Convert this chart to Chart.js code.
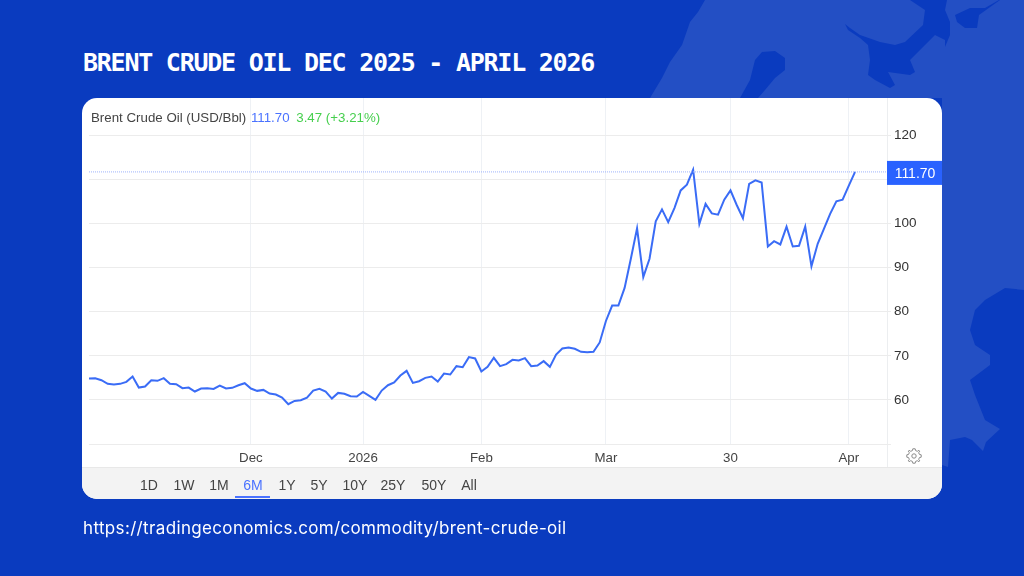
<!DOCTYPE html>
<html>
<head>
<meta charset="utf-8">
<script src="https://cdn.jsdelivr.net/npm/chart.js@4"></script>
<style>
html, body { margin: 0; padding: 0; }
body { width: 1024px; height: 576px; overflow: hidden; background: #0a3bbf; position: relative; font-family: "Liberation Sans", sans-serif; }
#map { position: absolute; left: 0; top: 0; }
#card { position: absolute; left: 82px; top: 98px; width: 860px; height: 401px; background: #fff; border-radius: 15px; overflow: hidden; }
#strip { position: absolute; left: 0; top: 369px; width: 860px; height: 32px; background: #f3f3f3; border-top: 1px solid #e8e8e8; box-sizing: border-box; }
#axisLine { position: absolute; left: 805px; top: 0; width: 1px; height: 369px; background: #eceef0; }
#chartBox { position: absolute; left: 0; top: 0; width: 1024px; height: 576px; }
.txt { position: absolute; white-space: nowrap; }
#title { left: 83px; top: 48px; color: #fff; font: 700 25px "DejaVu Sans Mono", monospace; letter-spacing: -1.24px; }
#url { left: 83px; top: 518px; color: #fff; font: 400 17px "Inter", sans-serif; letter-spacing: 0.35px; }
#legend { left: 91px; top: 110px; font-size: 13.3px; color: #444; }
#legend .last { color: #4a72ff; margin-left: 1px; }
#legend .chg { color: #46cf4e; margin-left: 3px; }
.tab { position: absolute; top: 477px; font-size: 14px; color: #444; transform: translateX(-50%); }
.tab.on { color: #4a72ff; }
#tabLine { position: absolute; left: 235px; top: 496px; width: 35px; height: 2px; background: #4a72ff; }
#gear { position: absolute; left: 906px; top: 448px; }
</style>
</head>
<body>
<svg id="map" width="1024" height="576">
  <path fill="#234fc4" d="M705 0 L698 12 L690 22 L682 45 L670 62 L662 78 L650 98 L942 98 L942 465 L948 467 L950 440 L965 437 L972 440 L983 451 L986 442 L1000 429 L985 420 L975 395 L970 380 L990 365 L990 355 L975 345 L970 330 L975 310 L985 300 L1005 288 L1024 290 L1024 0 Z"/>
  <path fill="#0a3bbf" d="M910 0 L925 10 L923 25 L905 42 L895 45 L880 42 L860 35 L850 28 L845 24 L848 30 L860 38 L868 45 L870 60 L868 75 L875 80 L890 88 L895 85 L888 72 L910 75 L915 72 L910 60 L925 45 L935 35 L945 40 L945 47 L950 35 L950 22 L945 10 L947 0 Z"/>
  <path fill="#0a3bbf" d="M999 0 L985 8 L970 8 L955 15 L957 22 L965 28 L977 28 L979 15 L1000 0 Z"/>
  <path fill="#0a3bbf" d="M740 98 L750 80 L755 60 L762 52 L775 51 L785 58 L785 70 L775 78 L765 90 L758 98 Z"/>
</svg>
<div class="txt" id="title">BRENT CRUDE OIL DEC 2025 - APRIL 2026</div>
<div id="card">
  <div id="strip"></div>
  <div id="axisLine"></div>
</div>
<div id="chartBox"><canvas id="chart" width="1024" height="576"></canvas></div>
<div class="txt" id="legend">Brent Crude Oil (USD/Bbl) <span class="last">111.70</span> <span class="chg">3.47 (+3.21%)</span></div>
<div id="tabs"></div>
<div id="tabLine"></div>
<svg id="gear" width="16" height="16" viewBox="0 0 16 16" fill="none" stroke="#8a8a8a" stroke-width="1">
  <circle cx="8" cy="8" r="2.2"/>
  <path d="M6.8 0.8 H9.2 L9.6 2.6 L11.3 3.3 L12.9 2.3 L13.7 3.1 L12.7 4.7 L13.4 6.4 L15.2 6.8 V9.2 L13.4 9.6 L12.7 11.3 L13.7 12.9 L12.9 13.7 L11.3 12.7 L9.6 13.4 L9.2 15.2 H6.8 L6.4 13.4 L4.7 12.7 L3.1 13.7 L2.3 12.9 L3.3 11.3 L2.6 9.6 L0.8 9.2 V6.8 L2.6 6.4 L3.3 4.7 L2.3 3.1 L3.1 2.3 L4.7 3.3 L6.4 2.6 Z"/>
</svg>
<div class="txt" id="url">https://tradingeconomics.com/commodity/brent-crude-oil</div>

<script>
// daily closes, one per trading day
var brentValues = [
  64.85, 64.92, 64.47, 63.64, 63.48, 63.64, 64.09, 65.30, 62.80, 63.03,
  64.47, 64.32, 64.92, 63.64, 63.56, 62.65, 62.80, 61.90, 62.58, 62.65,
  62.50, 63.26, 62.58, 62.73, 63.33, 63.79, 62.58, 62.05, 62.27, 61.44,
  61.21, 60.53, 59.02, 59.77, 59.92, 60.53, 62.12, 62.50, 61.90, 60.30,
  61.59, 61.40, 60.83, 60.76, 61.82, 60.91, 60.00, 62.12, 63.33, 63.94,
  65.53, 66.59, 63.86, 64.24, 65.00, 65.30, 64.17, 65.98, 65.76, 67.65,
  67.42, 69.70, 69.39, 66.44, 67.50, 69.55, 67.65, 68.10, 69.09, 68.94,
  69.47, 67.65, 67.80, 68.79, 67.50, 70.30, 71.67, 71.89, 71.59, 70.91,
  70.83, 70.91, 73.03, 77.90, 81.40, 81.40, 85.40, 92.00, 98.90, 87.85,
  92.00, 100.50, 103.20, 100.30, 103.50, 107.50, 108.80, 112.20, 99.90, 104.45,
  102.30, 102.00, 105.40, 107.50, 104.20, 101.20, 109.00, 109.80, 109.30, 94.80,
  96.00, 95.25, 99.30, 94.80, 94.95, 99.30, 90.30, 95.40, 98.80, 102.20,
  105.05, 105.40, 108.60, 111.70
];
var xTickIndex = [26, 44, 63, 83, 103, 122];
var xTickLabels = ["Dec", "2026", "Feb", "Mar", "30", "Apr"];
var yTicks = [50, 60, 70, 80, 90, 100, 110, 120];
var yTickLabels = ["", "60", "70", "80", "90", "100", "", "120"];
var lastPrice = 111.70;
var rangeTabs = ["1D", "1W", "1M", "6M", "1Y", "5Y", "10Y", "25Y", "50Y", "All"];
var rangeTabX = [149, 184, 219, 253, 287, 319, 355, 393, 434, 469];

rangeTabs.forEach(function (t, i) {
  var d = document.createElement("div");
  d.className = "tab" + (t == "6M" ? " on" : "");
  d.style.left = rangeTabX[i] + "px";
  d.textContent = t;
  document.getElementById("tabs").appendChild(d);
});

var xMax = 128.13;

// the blue price box on the right axis
var priceBox = {
  id: "priceBox",
  afterDraw: function (chart) {
    var c = chart.ctx, y = chart.scales.y.getPixelForValue(lastPrice);
    c.save();
    c.fillStyle = "#2962ff";
    c.fillRect(887, y - 11, 55, 24);
    c.fillStyle = "#fff";
    c.font = '14px "Liberation Sans"';
    c.textAlign = "center";
    c.textBaseline = "middle";
    c.fillText(lastPrice.toFixed(2), 915, y + 2);
    c.restore();
  }
};

new Chart(document.getElementById("chart"), {
  type: "line",
  data: {
    datasets: [
      {
        data: [{ x: 0, y: lastPrice }, { x: xMax, y: lastPrice }],
        borderColor: "#9db4fb", borderWidth: 1, borderDash: [1, 1], pointRadius: 0, tension: 0
      },
      {
        data: brentValues.map(function (v, i) { return { x: i, y: v }; }),
        borderColor: "#3a6cf6", borderWidth: 2, pointRadius: 0, tension: 0
      }
    ]
  },
  options: {
    responsive: false,
    animation: false,
    layout: { padding: { left: 89, top: 98, right: 0, bottom: 0 } },
    plugins: { legend: { display: false }, tooltip: { enabled: false } },
    scales: {
      x: {
        type: "linear", min: 0, max: xMax,
        afterBuildTicks: function (s) { s.ticks = xTickIndex.map(function (v) { return { value: v }; }); },
        afterFit: function (s) { s.height = 576 - 444; },
        ticks: {
          autoSkip: false, maxRotation: 0, padding: 6, color: "#444",
          font: { family: "Liberation Sans", size: 13.3 },
          callback: function (v) { return xTickLabels[xTickIndex.indexOf(v)]; }
        },
        grid: { color: "#eef1f5", lineWidth: 1, drawTicks: false },
        border: { display: false }
      },
      y: {
        type: "linear", position: "right", min: 50, max: 128.46,
        afterBuildTicks: function (s) { s.ticks = yTicks.map(function (v) { return { value: v }; }); },
        afterFit: function (s) { s.width = 1024 - 887; },
        ticks: {
          autoSkip: false, padding: 3, color: "#333",
          font: { family: "Liberation Sans", size: 13.5 },
          callback: function (v) { return yTickLabels[yTicks.indexOf(v)]; }
        },
        grid: { color: "#ececec", lineWidth: 1, tickLength: 4 },
        border: { display: false }
      }
    }
  },
  plugins: [priceBox]
});
</script>
</body>
</html>
